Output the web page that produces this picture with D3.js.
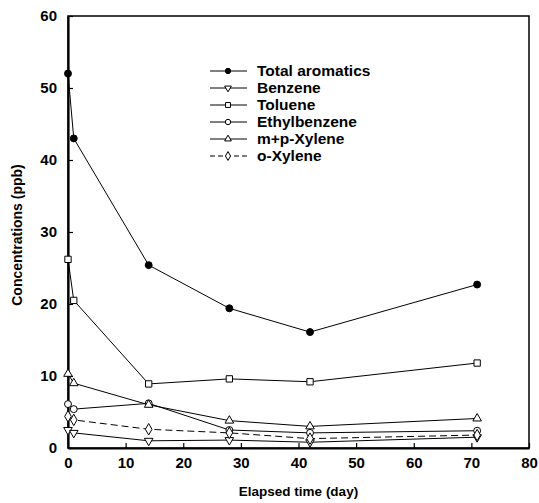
<!DOCTYPE html>
<html>
<head>
<meta charset="utf-8">
<script src="https://cdn.jsdelivr.net/npm/d3@7"></script>
<style>
  body { margin: 0; background: #fff; }
  text { font-family: "Liberation Sans", Arial, sans-serif; fill: #000; }
</style>
</head>
<body>
<div id="chart"></div>
<script>
// data
var days = [0, 1, 14, 28, 42, 71];
var totalAromatics = [52, 43, 25.4, 19.4, 16.1, 22.7];
var benzene = [2.5, 2.1, 1.0, 1.1, 0.8, 1.5];
var toluene = [26.2, 20.5, 8.9, 9.6, 9.2, 11.8];
var ethylbenzene = [6.1, 5.4, 6.2, 2.5, 2.1, 2.4];
var mpXylene = [10.3, 9.0, 6.0, 3.8, 3.0, 4.1];
var oXylene = [4.4, 3.9, 2.6, 2.1, 1.3, 1.8];
var xTicks = [0, 10, 20, 30, 40, 50, 60, 70, 80];
var yTicks = [0, 10, 20, 30, 40, 50, 60];

var series = [
  {name: "Total aromatics", values: totalAromatics, symbol: d3.symbolCircle, fill: "#000", dash: null, size: 38},
  {name: "Benzene", values: benzene, symbol: "down", fill: "#fff", dash: null, size: 32},
  {name: "Toluene", values: toluene, symbol: d3.symbolSquare, fill: "#fff", dash: null, size: 40},
  {name: "Ethylbenzene", values: ethylbenzene, symbol: d3.symbolCircle, fill: "#fff", dash: null, size: 38},
  {name: "m+p-Xylene", values: mpXylene, symbol: d3.symbolTriangle, fill: "#fff", dash: null, size: 32},
  {name: "o-Xylene", values: oXylene, symbol: d3.symbolDiamond, fill: "#fff", dash: "7,4", size: 38}
];

var margin = {top: 16, right: 10, bottom: 55, left: 68},
    width = 539 - margin.left - margin.right,
    height = 503 - margin.top - margin.bottom;

var svg = d3.select("#chart").append("svg")
    .attr("width", 539)
    .attr("height", 503)
  .append("g")
    .attr("transform", "translate(" + margin.left + "," + margin.top + ")");

var x = d3.scaleLinear().domain([0, 80]).range([0, width]);
var y = d3.scaleLinear().domain([0, 60]).range([height, 0]);

function symbolPath(type, size) {
  return d3.symbol().type(type === "down" ? d3.symbolTriangle : type).size(size)();
}

// frame
svg.append("rect")
    .attr("width", width)
    .attr("height", height)
    .attr("fill", "none")
    .attr("stroke", "#000")
    .attr("stroke-width", 1.5);

// axes with inward ticks
var xAxis = svg.append("g")
    .attr("transform", "translate(0," + height + ")")
    .call(d3.axisBottom(x).tickValues(xTicks).tickSize(-5).tickPadding(9).tickSizeOuter(0));
var yAxis = svg.append("g")
    .call(d3.axisLeft(y).tickValues(yTicks).tickSize(-5).tickPadding(11).tickSizeOuter(0));

[xAxis, yAxis].forEach(function(a) {
  a.select(".domain").attr("stroke-width", 2.2);
  a.selectAll(".tick line").attr("stroke-width", 1.2);
  a.selectAll(".tick text").style("font-size", "15px").style("font-weight", "bold");
});

svg.append("text")
    .attr("x", width / 2)
    .attr("y", height + 48)
    .attr("text-anchor", "middle")
    .style("font-size", "13.5px")
    .style("font-weight", "bold")
    .text("Elapsed time (day)");

svg.append("text")
    .attr("transform", "translate(-46," + (height / 2 + 3) + ") rotate(-90)")
    .attr("text-anchor", "middle")
    .style("font-size", "14px")
    .style("font-weight", "bold")
    .text("Concentrations (ppb)");

var line = d3.line()
    .x(function(d, i) { return x(days[i]); })
    .y(function(d) { return y(d); });

series.forEach(function(s) {
  svg.append("path")
      .datum(s.values)
      .attr("fill", "none")
      .attr("stroke", "#000")
      .attr("stroke-width", 1)
      .attr("stroke-dasharray", s.dash)
      .attr("d", line);

  svg.append("g").selectAll("path")
    .data(s.values)
    .enter().append("path")
      .attr("d", symbolPath(s.symbol, s.size))
      .attr("transform", function(d, i) {
        return "translate(" + x(days[i]) + "," + y(d) + ")" + (s.symbol === "down" ? " rotate(180)" : "");
      })
      .attr("fill", s.fill)
      .attr("stroke", "#000")
      .attr("stroke-width", 1);
});

// legend
var legend = svg.append("g")
    .attr("transform", "translate(142,55)");

var rows = legend.selectAll("g")
    .data(series)
    .enter().append("g")
    .attr("transform", function(d, i) { return "translate(0," + (i * 17) + ")"; });

rows.append("line")
    .attr("x1", 0).attr("x2", 37)
    .attr("stroke", "#000")
    .attr("stroke-width", 1)
    .attr("stroke-dasharray", function(d) { return d.dash ? "5,3" : null; });

rows.append("path")
    .attr("d", function(d) { return symbolPath(d.symbol, d.size * 0.6); })
    .attr("transform", function(d) { return "translate(18,0)" + (d.symbol === "down" ? " rotate(180)" : ""); })
    .attr("fill", function(d) { return d.fill; })
    .attr("stroke", "#000");

rows.append("text")
    .attr("x", 47)
    .attr("dy", "0.35em")
    .style("font-size", "15.5px")
    .style("font-weight", "bold")
    .text(function(d) { return d.name; });
</script>
</body>
</html>
